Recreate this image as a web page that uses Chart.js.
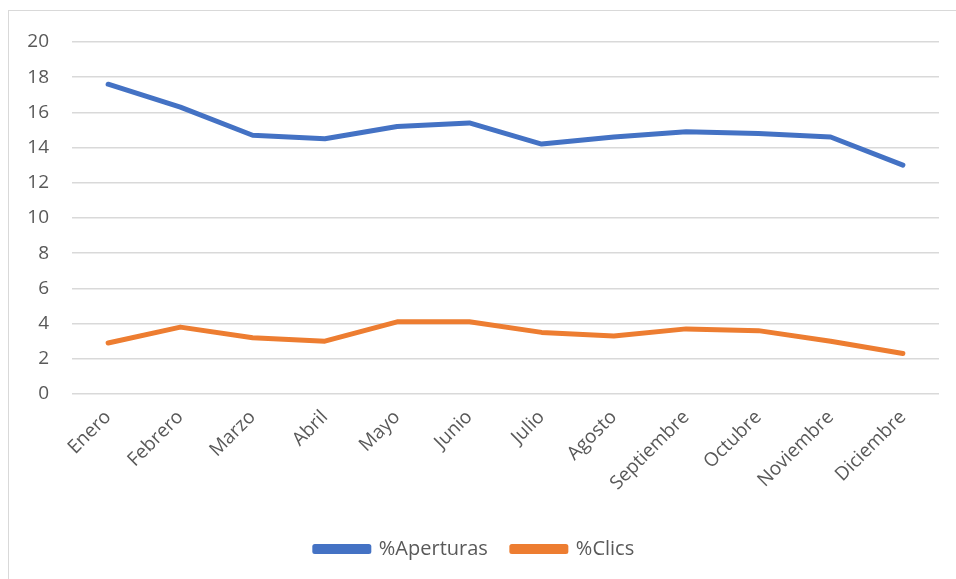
<!DOCTYPE html>
<html>
<head>
<meta charset="utf-8">
<script src="https://cdn.jsdelivr.net/npm/chart.js@4/dist/chart.umd.min.js"></script>
<style>
  html, body { margin: 0; padding: 0; background: #fff; overflow: hidden; }
  #frame { position: absolute; left: 8px; top: 10px; width: 1000px; height: 700px; border: 1px solid #d9d9d9; }
  #wrap { position: absolute; left: 0; top: 0; width: 956px; height: 579px; }
</style>
</head>
<body>
<div id="frame"></div>
<div id="wrap"><canvas id="line-chart" width="956" height="579"></canvas></div>
<script>
let meses = ["Enero", "Febrero", "Marzo", "Abril", "Mayo", "Junio", "Julio", "Agosto", "Septiembre", "Octubre", "Noviembre", "Diciembre"];
let aperturas = [17.6, 16.3, 14.7, 14.5, 15.2, 15.4, 14.2, 14.6, 14.9, 14.8, 14.6, 13.0];
let clics = [2.9, 3.8, 3.2, 3.0, 4.1, 4.1, 3.5, 3.3, 3.7, 3.6, 3.0, 2.3];

let fuente = "'Open Sans', 'Liberation Sans', sans-serif";
let gris = "#595959";

new Chart(document.getElementById("line-chart"), {
  type: "line",
  data: {
    labels: meses,
    datasets: [
      {
        label: "%Aperturas",
        data: aperturas,
        borderColor: "#4472C4",
        backgroundColor: "#4472C4",
        borderWidth: 5,
        pointRadius: 0,
        tension: 0,
        borderCapStyle: "round",
        borderJoinStyle: "round",
      },
      {
        label: "%Clics",
        data: clics,
        borderColor: "#ED7D31",
        backgroundColor: "#ED7D31",
        borderWidth: 5,
        pointRadius: 0,
        tension: 0,
        borderCapStyle: "round",
        borderJoinStyle: "round",
      },
    ],
  },
  options: {
    responsive: false,
    animation: false,
    layout: { padding: { left: 10, right: 17, top: 42, bottom: 10 } },
    plugins: {
      tooltip: { enabled: false },
      legend: {
        position: "bottom",
        labels: {
          boxWidth: 54,
          boxHeight: 5,
          padding: 24,
          color: gris,
          font: { family: fuente, size: 20 },
        },
      },
    },
    scales: {
      x: {
        offset: true,
        grid: { display: false },
        border: { display: false },
        ticks: {
          color: gris,
          font: { family: fuente, size: 19 },
          minRotation: 45,
          maxRotation: 45,
          padding: 4,
          autoSkip: false,
        },
        afterFit: (scale) => { scale.height = 121; },
      },
      y: {
        min: 0,
        max: 20,
        border: { display: false },
        grid: { color: "#d9d9d9", lineWidth: 1.5, drawTicks: false },
        ticks: {
          stepSize: 2,
          color: gris,
          padding: 23,
          font: { family: fuente, size: 19 },
        },
        afterFit: (scale) => { scale.width = 62; },
      },
    },
  },
});
</script>
</body>
</html>
